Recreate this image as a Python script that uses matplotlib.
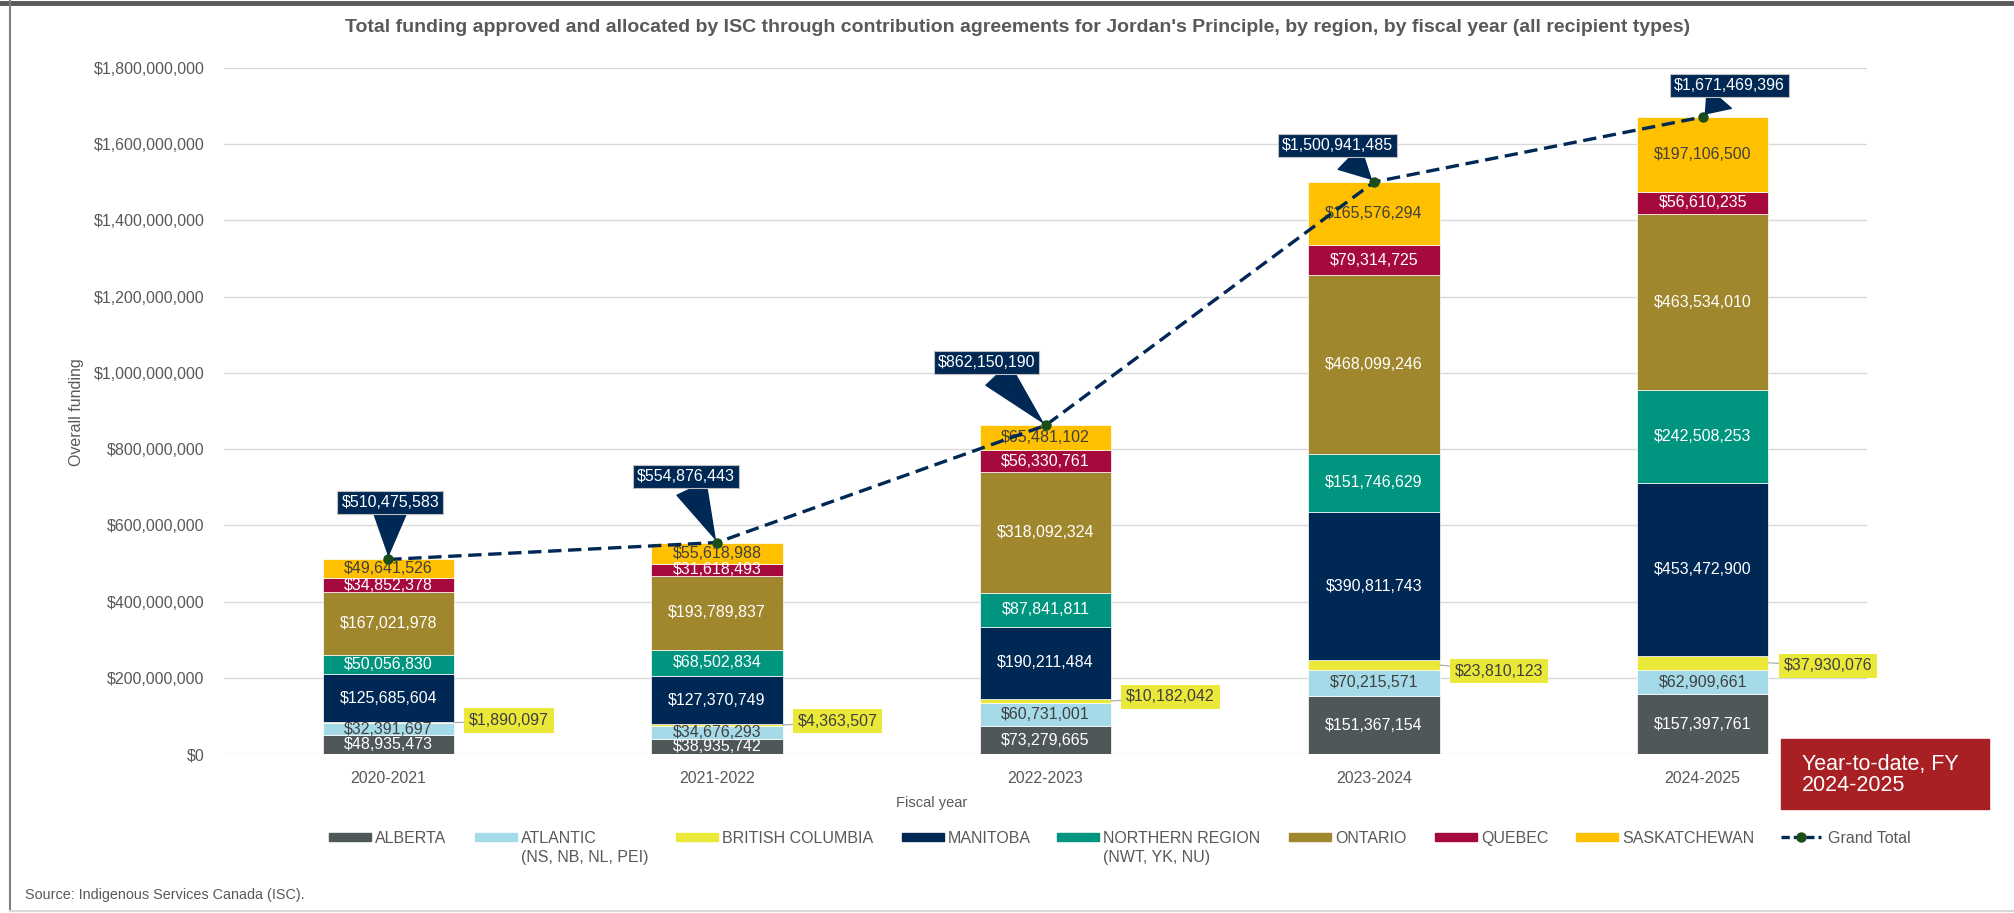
import matplotlib
matplotlib.use('Agg')
import matplotlib.pyplot as plt
from matplotlib.patches import Rectangle
from matplotlib.lines import Line2D
from matplotlib.ticker import FuncFormatter
import numpy as np

plt.rcParams['font.family'] = ['Liberation Sans', 'DejaVu Sans']

years = ['2020-2021', '2021-2022', '2022-2023', '2023-2024', '2024-2025']
regions = ['ALBERTA', 'ATLANTIC\n(NS, NB, NL, PEI)', 'BRITISH COLUMBIA', 'MANITOBA',
           'NORTHERN REGION\n(NWT, YK, NU)', 'ONTARIO', 'QUEBEC', 'SASKATCHEWAN']

alberta = [48935473, 38935742, 73279665, 151367154, 157397761]
atlantic = [32391697, 34676293, 60731001, 70215571, 62909661]
british_columbia = [1890097, 4363507, 10182042, 23810123, 37930076]
manitoba = [125685604, 127370749, 190211484, 390811743, 453472900]
northern_region = [50056830, 68502834, 87841811, 151746629, 242508253]
ontario = [167021978, 193789837, 318092324, 468099246, 463534010]
quebec = [34852378, 31618493, 56330761, 79314725, 56610235]
saskatchewan = [49641526, 55618988, 65481102, 165576294, 197106500]
grand_total = [510475583, 554876443, 862150190, 1500941485, 1671469396]

series = [alberta, atlantic, british_columbia, manitoba,
          northern_region, ontario, quebec, saskatchewan]
colors = ['#505759', '#A5DBE8', '#EAE838', '#002855', '#00957F', '#A0862C', '#A6093D', '#FFC000']
label_colors = ['white', '#404040', '#404040', 'white', 'white', 'white', 'white', '#404040']

W, H = 2015, 913
GRAY = '#595959'
FS = 11.5

fig = plt.figure(figsize=(W / 100, H / 100), dpi=100)
ax = fig.add_axes([224 / W, 1 - 754 / H, (1867 - 224) / W, (754 - 68) / H])

x = np.arange(len(years))
bottom = np.zeros(len(years))
bc_dy = [2, 4, 4, -6, -3]  # small vertical nudges for the BC callouts (pixels)

for k, vals in enumerate(series):
    vals = np.array(vals, dtype=float)
    ax.bar(x, vals, 0.4, bottom=bottom, color=colors[k], edgecolor='white', linewidth=0.5, zorder=2)
    for i in range(len(x)):
        mid = bottom[i] + vals[i] / 2
        txt = f'${int(vals[i]):,}'
        if k == 2:
            # british columbia is too thin, label goes to the right in a yellow box
            ax.annotate(txt, xy=(x[i] + 0.2, mid), xytext=(15, bc_dy[i]), textcoords='offset pixels',
                        ha='left', va='center', fontsize=FS, color='#404040',
                        bbox=dict(boxstyle='square,pad=0.3', fc=colors[2], ec='none'),
                        arrowprops=dict(arrowstyle='-', color='#A6A6A6', lw=0.8, shrinkA=0, shrinkB=0),
                        zorder=5)
        else:
            ax.text(x[i], mid, txt, ha='center', va='center', fontsize=FS, color=label_colors[k], zorder=3)
    bottom += vals

# Grand total dashed line
ax.plot(x, grand_total, color='#002855', lw=2.4, ls=(0, (4, 2)), marker='o', markersize=6.5,
        markerfacecolor='#1B4D1B', markeredgecolor='#1B4D1B', zorder=4)

gt_offsets = [(2, 57), (-31, 66), (-59, 63), (-37, 36), (27, 31)]
for i, v in enumerate(grand_total):
    ax.annotate(f'${v:,}', xy=(x[i], v), xytext=gt_offsets[i], textcoords='offset pixels',
                ha='center', va='center', fontsize=FS, color='white',
                bbox=dict(boxstyle='square,pad=0.25', fc='#002855', ec='#BFBFBF', lw=0.8),
                arrowprops=dict(arrowstyle='wedge,tail_width=2.0,shrink_factor=0.5',
                                fc='#002855', ec='#002855', shrinkA=0, shrinkB=3),
                zorder=6)

ax.set_xlim(-0.5, len(years) - 0.5)
ax.set_ylim(0, 1.8e9)
ax.set_yticks(np.arange(0, 1.8e9 + 1, 2e8))
ax.yaxis.set_major_formatter(FuncFormatter(lambda v, p: f'${v:,.0f}'))
ax.set_xticks(x)
ax.set_xticklabels(years)
ax.tick_params(axis='both', length=0, labelsize=FS, labelcolor=GRAY)
ax.tick_params(axis='y', pad=14)
ax.tick_params(axis='x', pad=12)
ax.grid(axis='y', color='#D9D9D9', lw=1.0, zorder=0)
ax.set_axisbelow(True)
for s in ax.spines.values():
    s.set_visible(False)

# titles and axis labels
fig.text(1018 / W, 1 - 28 / H,
         "Total funding approved and allocated by ISC through contribution agreements for Jordan's Principle, by region, by fiscal year (all recipient types)",
         ha='center', va='center', fontsize=14, fontweight='bold', color=GRAY)
fig.text(77 / W, 1 - 412 / H, 'Overall funding', rotation=90, ha='center', va='center',
         fontsize=FS, color=GRAY)
fig.text(932 / W, 1 - 803 / H, 'Fiscal year', ha='center', va='center', fontsize=10.5, color=GRAY)
fig.text(25 / W, 1 - 895 / H, 'Source: Indigenous Services Canada (ISC).', ha='left', va='center',
         fontsize=10.4, color=GRAY)

# legend, drawn by hand so the two-line labels hang below the first line
leg_x = [329, 475, 676, 902, 1057, 1289, 1435, 1576]
for k in range(len(regions)):
    fig.add_artist(Rectangle((leg_x[k] / W, 1 - 841 / H), 42 / W, 8 / H,
                             transform=fig.transFigure, color=colors[k]))
    for j, line in enumerate(regions[k].split('\n')):
        fig.text((leg_x[k] + 46) / W, 1 - (843 + 19 * j) / H, line, ha='left', va='baseline',
                 fontsize=FS, color=GRAY)
fig.add_artist(Line2D(np.array([1781, 1801, 1821]) / W, [1 - 837 / H] * 3, transform=fig.transFigure,
                      color='#002855', lw=2.4, ls=(0, (2.5, 1.2)), marker='o', markevery=[1],
                      markersize=6.5, markerfacecolor='#1B4D1B', markeredgecolor='#1B4D1B'))
fig.text(1828 / W, 1 - 843 / H, 'Grand Total', ha='left', va='baseline', fontsize=FS, color=GRAY)

# year-to-date note
fig.add_artist(Rectangle((1781 / W, 1 - 809 / H), 208 / W, 70 / H, transform=fig.transFigure,
                         color='#A81F24'))
fig.text(1802 / W, 1 - 775 / H, 'Year-to-date, FY\n2024-2025', ha='left', va='center',
         fontsize=15.5, color='white', linespacing=1.05)

# chart frame
fig.add_artist(Line2D([0, 1], [1 - 3 / H] * 2, transform=fig.transFigure, color=GRAY, lw=3.5))
fig.add_artist(Line2D([10 / W, 10 / W], [1 - 911 / H, 1], transform=fig.transFigure, color='#7F7F7F', lw=1.5))
fig.add_artist(Line2D([10 / W, 1], [1 - 911 / H] * 2, transform=fig.transFigure, color='#D9D9D9', lw=1.5))

fig.savefig('out.png', dpi=100)
